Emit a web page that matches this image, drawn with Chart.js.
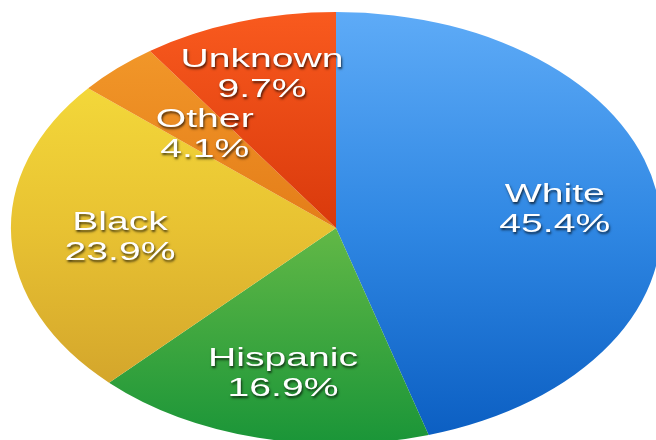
<!DOCTYPE html>
<html>
<head>
<meta charset="utf-8">
<script src="https://cdn.jsdelivr.net/npm/chart.js@4.4.1/dist/chart.umd.min.js"></script>
<style>
  html, body { margin: 0; padding: 0; background: #ffffff; overflow: hidden; width: 656px; height: 440px; }
  #wrap { width: 656px; height: 460px; }
</style>
</head>
<body>
<div id="wrap"><canvas id="c" width="656" height="460"></canvas></div>
<script>
// Share of cases by race / ethnicity (percent)
const categories = ['White', 'Hispanic', 'Black', 'Other', 'Unknown'];
const shares = [45.4, 16.9, 23.9, 4.1, 9.7];
const shareLabels = shares.map(v => v.toFixed(1) + '%');

// Vertical shading for each slice: top, middle, bottom of the pie
const sliceShades = [
  ['#5eabf7', '#2f87e3', '#0a5dc1'],
  ['#8fd062', '#62b846', '#1a9538'],
  ['#f9e33e', '#e8c232', '#cc9b29'],
  ['#f49c2c', '#e47d19', '#d06a10'],
  ['#f95a1e', '#d9390c', '#c42e06']
];

// Where each label sits, as a fraction of the radius along the slice bisector
const labelDepth = [0.68, 0.68, 0.665, 0.60, 0.758];

// The pie is drawn as a wide oval: everything is stretched horizontally
const X_STRETCH = 1.505;

const ovalPie = {
  id: 'ovalPie',
  beforeDatasetsDraw(chart) {
    const arc = chart.getDatasetMeta(0).data[0];
    const c = chart.ctx;
    c.save();
    c.translate(arc.x, 0);
    c.scale(X_STRETCH, 1);
    c.translate(-arc.x, 0);
  },
  afterDatasetsDraw(chart) {
    const c = chart.ctx;
    const meta = chart.getDatasetMeta(0);
    c.font = '26px "Liberation Sans", Arial, Helvetica, sans-serif';
    c.textAlign = 'center';
    c.textBaseline = 'alphabetic';
    c.fillStyle = '#ffffff';
    c.shadowColor = 'rgba(0,0,0,0.7)';
    c.shadowOffsetX = 1;
    c.shadowOffsetY = 2;
    c.shadowBlur = 2.5;
    meta.data.forEach((arc, i) => {
      const p = arc.getProps(['x', 'y', 'startAngle', 'endAngle', 'outerRadius'], true);
      const mid = (p.startAngle + p.endAngle) / 2;
      const r = p.outerRadius * labelDepth[i];
      const lx = p.x + Math.cos(mid) * r;
      const ly = p.y + Math.sin(mid) * r;
      c.fillText(categories[i], lx, ly - 5);
      c.fillText(shareLabels[i], lx, ly + 25);
    });
    c.restore();
  }
};

function sliceFill(context) {
  const chart = context.chart;
  const area = chart.chartArea;
  const shades = sliceShades[context.dataIndex];
  if (!area) return shades[1];
  const top = area.top, bottom = area.top + Math.min(area.width, area.height);
  const g = chart.ctx.createLinearGradient(0, top, 0, bottom);
  g.addColorStop(0, shades[0]);
  g.addColorStop(0.5, shades[1]);
  g.addColorStop(1, shades[2]);
  return g;
}

new Chart(document.getElementById('c'), {
  type: 'pie',
  data: {
    labels: categories,
    datasets: [{
      data: shares,
      backgroundColor: sliceFill,
      borderWidth: 0,
      hoverOffset: 0
    }]
  },
  options: {
    responsive: false,
    animation: false,
    events: [],
    layout: { padding: { left: 16, right: 0, top: 12, bottom: 16 } },
    plugins: {
      legend: { display: false },
      tooltip: { enabled: false }
    }
  },
  plugins: [ovalPie]
});
</script>
</body>
</html>
